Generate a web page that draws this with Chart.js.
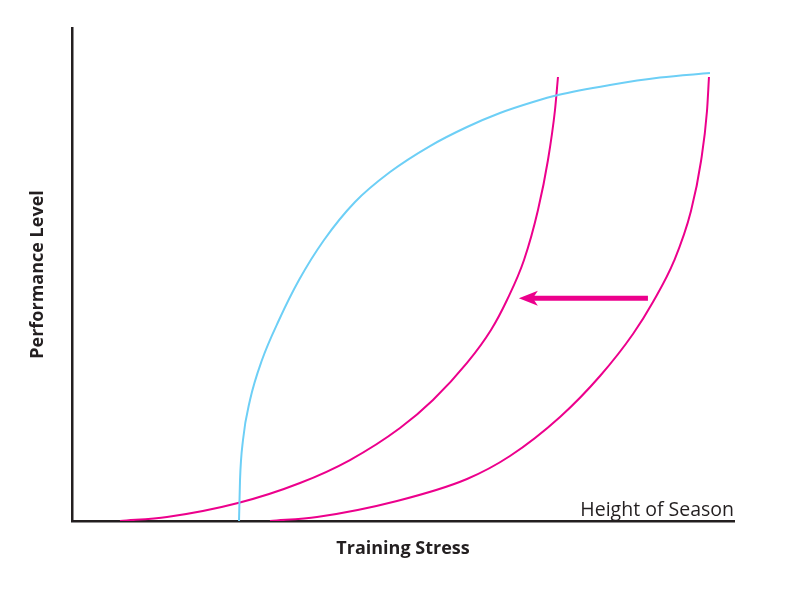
<!DOCTYPE html>
<html>
<head>
<meta charset="utf-8">
<script src="https://cdn.jsdelivr.net/npm/chart.js@4/dist/chart.umd.min.js"></script>
<style>
html,body{margin:0;padding:0;background:#fff;}
#wrap{width:792px;height:612px;}
</style>
</head>
<body>
<div id="wrap"><canvas id="c" width="792" height="612"></canvas></div>
<script>
// Relative units (0-100) on both axes
const xTitle = "Training Stress";
const yTitle = "Performance Level";
const annotationLabel = "Height of Season";

const fitnessX = [25.23, 25.38, 25.83, 26.89, 28.70, 31.27, 34.29, 38.07, 42.75, 48.04, 54.08, 59.67, 64.65, 69.64, 73.41, 81.27, 88.82, 96.37];
const fitnessY = [0, 8.32, 16.43, 24.54, 32.66, 40.77, 48.88, 57.00, 64.71, 70.79, 76.06, 79.92, 82.76, 84.99, 86.41, 88.44, 89.96, 90.87];

const earlyX = [7.25, 14.35, 25.08, 34.44, 41.99, 49.55, 54.53, 59.67, 63.29, 65.71, 68.28, 70.39, 71.90, 72.96, 73.41];
const earlyY = [0, 0.81, 3.65, 7.71, 12.37, 18.86, 24.54, 32.05, 38.74, 44.83, 52.94, 63.08, 73.23, 83.37, 90.06];

const lateX = [29.91, 37.01, 49.09, 59.67, 66.16, 73.72, 79.76, 84.74, 87.76, 90.94, 93.50, 95.02, 95.92, 96.22];
const lateY = [0, 0.81, 4.06, 8.52, 13.18, 21.10, 29.41, 37.93, 44.42, 52.74, 62.88, 73.02, 83.16, 90.06];

const arrowX = [87.0, 67.5];
const arrowY = [45.2, 45.2];

const BLUE = '#6dcff6';
const MAGENTA = '#ec008c';
const INK = '#231f20';

const toPts = (xs, ys) => xs.map((x, i) => ({x: x, y: ys[i]}));

const arrowPlugin = {
  id: 'arrowAndLabel',
  afterDatasetsDraw(chart) {
    const ctx = chart.ctx;
    const xs = chart.scales.x, ys = chart.scales.y;
    const x0 = xs.getPixelForValue(arrowX[0]);
    const y0 = ys.getPixelForValue(arrowY[0]);
    const x1 = xs.getPixelForValue(arrowX[1]);
    const y1 = ys.getPixelForValue(arrowY[1]);
    const ang = Math.atan2(y1 - y0, x1 - x0);
    const L = 19, W = 7.5, notch = 14;
    ctx.save();
    ctx.strokeStyle = MAGENTA;
    ctx.lineWidth = 5;
    ctx.beginPath();
    ctx.moveTo(x0, y0);
    ctx.lineTo(x1 - Math.cos(ang) * notch, y1 - Math.sin(ang) * notch);
    ctx.stroke();
    ctx.translate(x1, y1);
    ctx.rotate(ang);
    ctx.fillStyle = MAGENTA;
    ctx.beginPath();
    ctx.moveTo(0, 0);
    ctx.lineTo(-L, -W);
    ctx.lineTo(-notch, 0);
    ctx.lineTo(-L, W);
    ctx.closePath();
    ctx.fill();
    ctx.restore();
    const a = chart.chartArea;
    ctx.save();
    ctx.fillStyle = INK;
    ctx.font = '400 19.5px "Open Sans", Lato, sans-serif';
    ctx.textAlign = 'right';
    ctx.textBaseline = 'alphabetic';
    ctx.fillText(annotationLabel, a.right, a.bottom - 5);
    ctx.restore();
  }
};

const lineDs = (label, data, color) => ({
  label: label,
  data: data,
  showLine: true,
  borderColor: color,
  borderWidth: 2,
  pointRadius: 0,
  pointHoverRadius: 0,
  fill: false,
  cubicInterpolationMode: 'monotone'
});

new Chart(document.getElementById('c'), {
  type: 'scatter',
  data: {
    datasets: [
      lineDs('Fitness', toPts(fitnessX, fitnessY), BLUE),
      lineDs('Early season', toPts(earlyX, earlyY), MAGENTA),
      lineDs('Height of season', toPts(lateX, lateY), MAGENTA)
    ]
  },
  options: {
    responsive: false,
    animation: false,
    devicePixelRatio: 1,
    layout: {padding: {left: 10, right: 58, top: 28, bottom: 42.2}},
    plugins: {legend: {display: false}, tooltip: {enabled: false}},
    scales: {
      x: {
        type: 'linear', min: 0, max: 100,
        grid: {display: false, drawTicks: false},
        ticks: {display: false},
        border: {display: true, color: INK, width: 2.5},
        title: {display: true, text: xTitle, color: INK,
          font: {family: '"Open Sans", Lato, sans-serif', size: 18, weight: 'bold'},
          padding: {top: 17.2, bottom: 10}}
      },
      y: {
        type: 'linear', min: 0, max: 100,
        grid: {display: false, drawTicks: false},
        ticks: {display: false},
        border: {display: true, color: INK, width: 2.5},
        title: {display: true, text: yTitle, color: INK,
          font: {family: '"Open Sans", Lato, sans-serif', size: 18, weight: 'bold'},
          padding: {top: 17.2, bottom: 23.2}}
      }
    }
  },
  plugins: [arrowPlugin]
});
</script>
</body>
</html>
